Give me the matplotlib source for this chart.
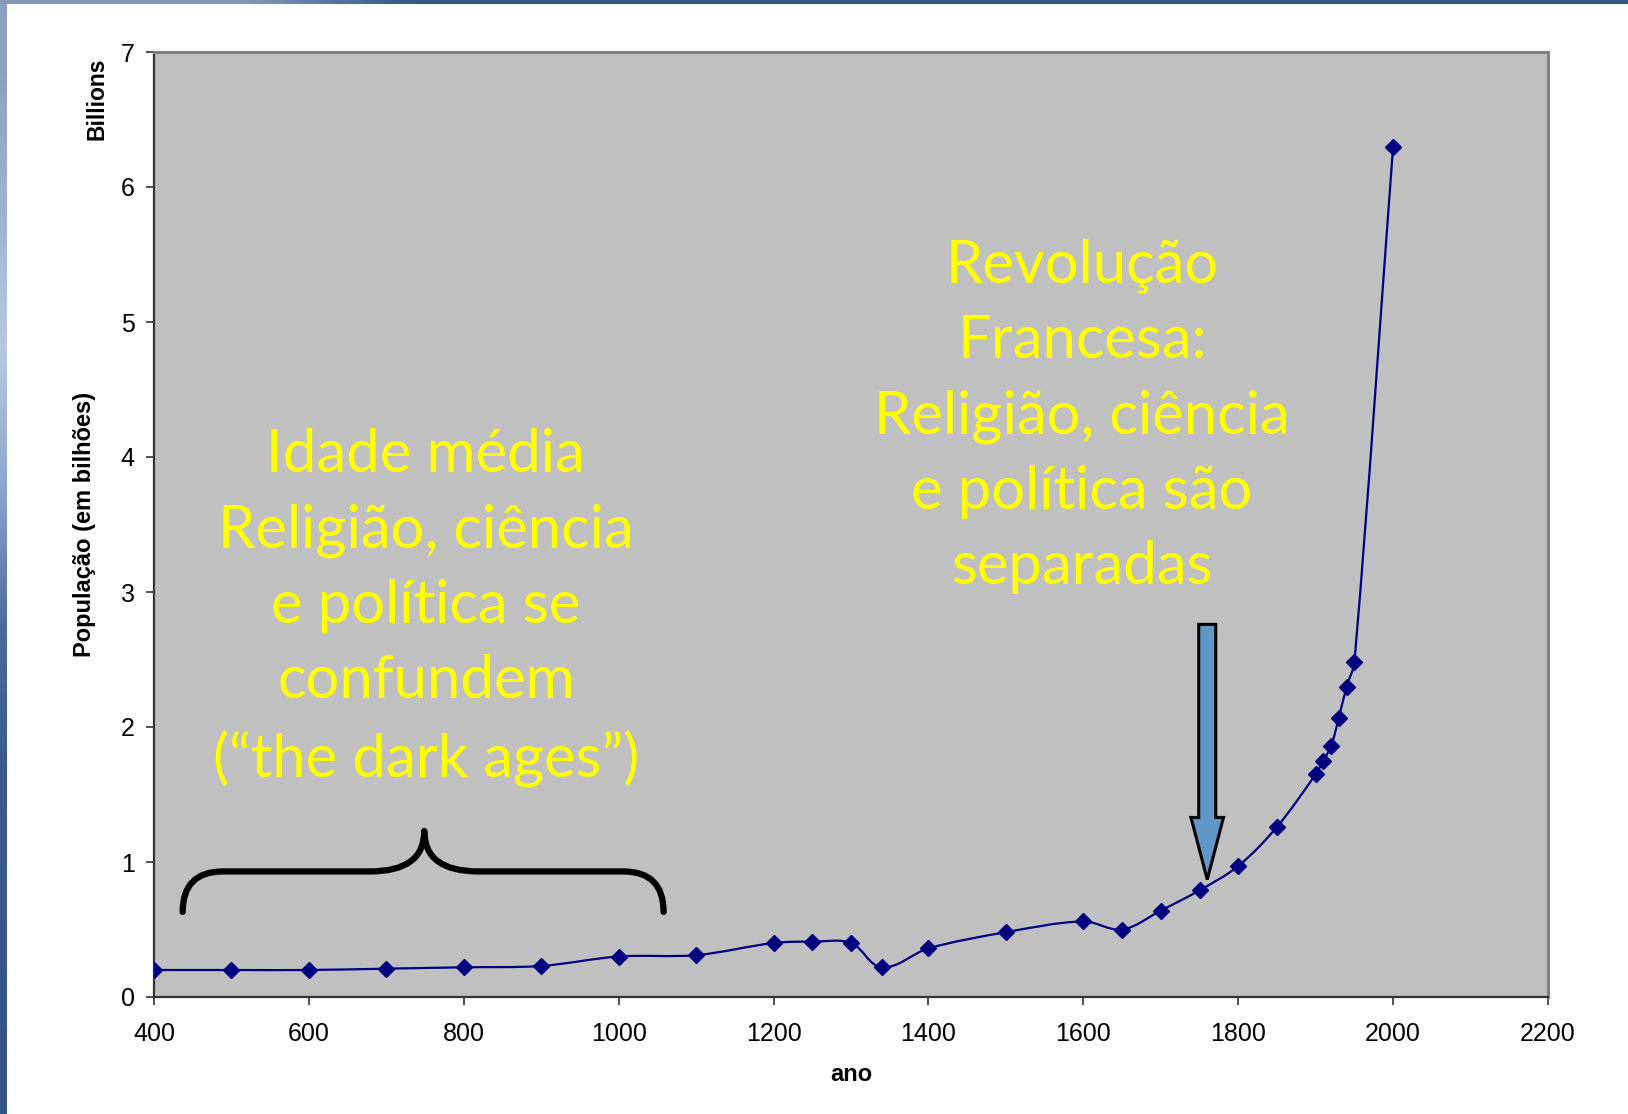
import numpy as np
import matplotlib
matplotlib.use("Agg")
import matplotlib.pyplot as plt
from matplotlib.path import Path
from matplotlib.patches import PathPatch, Polygon

# World population estimates (billions)
years = [400, 500, 600, 700, 800, 900, 1000, 1100, 1200, 1250, 1300, 1340,
         1400, 1500, 1600, 1650, 1700, 1750, 1800, 1850, 1900, 1910, 1920,
         1930, 1940, 1950, 2000]
population = [0.20, 0.20, 0.20, 0.21, 0.22, 0.23, 0.30, 0.31, 0.40, 0.41,
              0.40, 0.22, 0.36, 0.48, 0.56, 0.50, 0.64, 0.79, 0.97, 1.26,
              1.65, 1.75, 1.86, 2.07, 2.30, 2.48, 6.30]

x_ticks = [400, 600, 800, 1000, 1200, 1400, 1600, 1800, 2000, 2200]
y_ticks = [0, 1, 2, 3, 4, 5, 6, 7]

left_note = "Idade média\nReligião, ciência\ne política se\nconfundem\n(“the dark ages”)"
right_note = "Revolução\nFrancesa:\nReligião, ciência\ne política são\nseparadas"

# Brace over the medieval period (data units)
brace_left, brace_right, brace_mid = 437, 1058, 749
brace_tip, brace_bar, brace_peak = 0.63, 0.93, 1.23

# Arrow pointing at 1760
arrow_x, arrow_tip, arrow_head_base, arrow_top = 1760, 0.87, 1.33, 2.76
arrow_shaft_half, arrow_head_half = 11, 21

W, H = 1628, 1114
fig = plt.figure(figsize=(W / 100, H / 100), dpi=100)
fig.patch.set_facecolor("white")

# Slide edge bands
band_left = fig.add_axes([0, 0, 7 / W, 1], zorder=-5)
grad = np.array([[0.55, 0.63, 0.76], [0.62, 0.70, 0.82], [0.72, 0.79, 0.88],
                 [0.55, 0.65, 0.80], [0.30, 0.42, 0.60], [0.22, 0.36, 0.55],
                 [0.21, 0.35, 0.54], [0.20, 0.34, 0.53]])
band_left.imshow(grad[:, None, :], aspect="auto", interpolation="bilinear",
                 extent=[0, 1, 0, 1])
band_left.axis("off")
band_top = fig.add_axes([0, 1 - 4 / H, 1, 4 / H], zorder=-5)
gtop = np.array([[0.52, 0.60, 0.72], [0.52, 0.60, 0.72], [0.21, 0.35, 0.54],
                 [0.21, 0.35, 0.54], [0.21, 0.35, 0.54], [0.21, 0.35, 0.54],
                 [0.21, 0.35, 0.54], [0.21, 0.35, 0.54], [0.21, 0.35, 0.54],
                 [0.21, 0.35, 0.54]])
band_top.imshow(gtop[None, :, :], aspect="auto", interpolation="bilinear",
                extent=[0, 1, 0, 1])
band_top.axis("off")

ax = fig.add_axes([154 / W, 1 - 997 / H, (1548 - 154) / W, (997 - 52) / H])
ax.set_facecolor("#c0c0c0")
ax.set_xlim(400, 2200)
ax.set_ylim(0, 7)
ax.set_xticks(x_ticks)
ax.set_yticks(y_ticks)
ax.tick_params(direction="out", length=6, width=1.2, color="#333333",
               labelsize=18)
ax.tick_params(axis="x", pad=12)
ax.tick_params(axis="y", pad=8)
for lbl in ax.get_xticklabels() + ax.get_yticklabels():
    lbl.set_family("Liberation Sans")
for s in ("left", "bottom"):
    ax.spines[s].set_color("#333333")
    ax.spines[s].set_linewidth(1.6)
for s in ("top", "right"):
    ax.spines[s].set_color("#808080")
    ax.spines[s].set_linewidth(2.2)

ax.set_xlabel("ano", fontsize=17, fontweight="bold", family="Liberation Sans",
              labelpad=12)
ax.set_ylabel("População (em bilhões)", fontsize=17, fontweight="bold",
              family="Liberation Sans", labelpad=18)
fig.text(97 / W, 1 - 99 / H, "Billions", rotation=90, fontsize=16.5,
         fontweight="bold", family="Liberation Sans", ha="center", va="center")

# Smoothed line through the points: cubic Bezier segments built in pixel space
sx = (1548 - 154) / 1800.0
sy = (997 - 52) / 7.0
px = np.asarray(years, float) * sx
py = np.asarray(population, float) * sy
n = len(px)
pts = np.column_stack([px, py])
tang = np.zeros_like(pts)
for i in range(n):
    a = pts[max(i - 1, 0)]
    b = pts[min(i + 1, n - 1)]
    d = b - a
    tang[i] = d / np.hypot(*d)
verts = [tuple(pts[0])]
codes = [Path.MOVETO]
for i in range(n - 1):
    seg = np.hypot(*(pts[i + 1] - pts[i]))
    c1 = pts[i] + tang[i] * seg / 3.0
    c2 = pts[i + 1] - tang[i + 1] * seg / 3.0
    verts += [tuple(c1), tuple(c2), tuple(pts[i + 1])]
    codes += [Path.CURVE4] * 3
verts = [(vx / sx, vy / sy) for vx, vy in verts]
ax.add_patch(PathPatch(Path(verts, codes), fill=False, edgecolor="#000080",
                       lw=1.6, zorder=3))
ax.plot(years, population, linestyle="none", marker="D", markersize=8.5,
        color="#000080", zorder=4)

# Brace
rx = 52
dx = 70
bverts = [(brace_left, brace_tip), (brace_left, brace_bar), (brace_left + rx, brace_bar),
          (brace_mid - dx, brace_bar),
          (brace_mid, brace_bar), (brace_mid, brace_peak),
          (brace_mid, brace_bar), (brace_mid + dx, brace_bar),
          (brace_right - rx, brace_bar),
          (brace_right, brace_bar), (brace_right, brace_tip)]
bcodes = [Path.MOVETO, Path.CURVE3, Path.CURVE3, Path.LINETO,
          Path.CURVE3, Path.CURVE3, Path.CURVE3, Path.CURVE3,
          Path.LINETO, Path.CURVE3, Path.CURVE3]
ax.add_patch(PathPatch(Path(bverts, bcodes), fill=False, edgecolor="black",
                       lw=4.5, capstyle="round", joinstyle="round", zorder=5))

# Arrow
arrow_pts = [(arrow_x - arrow_shaft_half, arrow_top),
             (arrow_x + arrow_shaft_half, arrow_top),
             (arrow_x + arrow_shaft_half, arrow_head_base),
             (arrow_x + arrow_head_half, arrow_head_base),
             (arrow_x, arrow_tip),
             (arrow_x - arrow_head_half, arrow_head_base),
             (arrow_x - arrow_shaft_half, arrow_head_base)]
ax.add_patch(Polygon(arrow_pts, closed=True, facecolor="#6196c8",
                     edgecolor="black", lw=2.2, zorder=5))

# Annotations
note_style = dict(color="#ffff00", fontsize=43, family="Lato", ha="center",
                  va="center", multialignment="center", linespacing=1.48,
                  zorder=6)
ax.text(751, 2.88, left_note, **note_style)
ax.text(1598, 4.30, right_note, **note_style)

fig.savefig("out.png", dpi=100, facecolor="white")
